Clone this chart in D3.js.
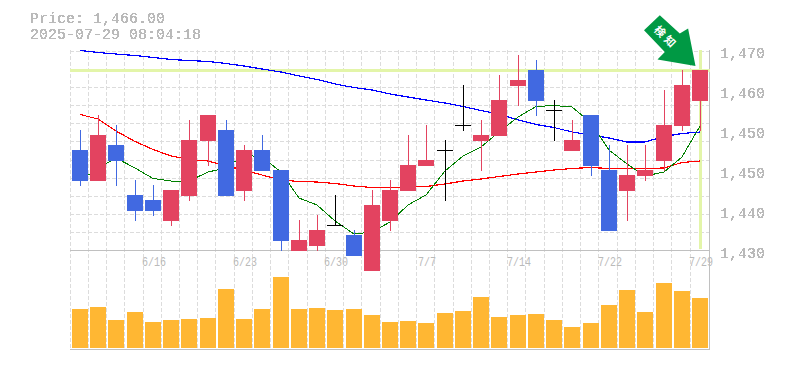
<!DOCTYPE html>
<html><head><meta charset="utf-8">
<script src="https://cdn.jsdelivr.net/npm/d3@7"></script>
<style>html,body{margin:0;padding:0;background:#fff}svg{display:block}text{font-family:"Liberation Mono",monospace}</style>
</head><body><svg id="c" width="785" height="370"></svg>
<script>
const priceTickLabels = ["1,470","1,460","1,450","1,450","1,440","1,430"];
const dateLabels = ["6/16","6/23","6/30","7/7","7/14","7/22","7/29"];
const dateLabelIndex = [4,9,14,19,24,29,34];
const open  = [1450,1444,1451,1441,1440,1436,1441,1452,1454,1442,1450,1446,1430,1431,1435,1433,1426,1436,1442,1447,1450,1455,1452,1453,1463,1466,1458,1450,1457,1446,1442,1445,1448,1455,1460];
const close = [1444,1453,1448,1438,1438,1442,1452,1457,1441,1450,1446,1432,1432,1434,1435,1429,1439,1442,1447,1448,1450,1455,1453,1460,1464,1460,1458,1452,1447,1434,1445,1446,1455,1463,1466];
const high  = [1454,1457,1455,1444,1443,1442,1456,1457,1456,1451,1453,1446,1436,1437,1441,1434,1442,1444,1453,1455,1452,1463,1456,1465,1469,1468,1460,1456,1457,1451,1451,1451,1462,1466,1466];
const low   = [1443,1444,1443,1436,1437,1435,1440,1447,1441,1440,1446,1430,1430,1430,1435,1429,1426,1434,1442,1447,1440,1454,1446,1453,1459,1457,1452,1450,1445,1434,1436,1444,1446,1454,1454];
const volume = [39,41,28,36,26,28,29,30,59,29,39,71,39,40,38,39,33,26,27,25,35,37,51,31,33,34,28,21,25,43,58,36,65,57,50];
const maLong = [1470.0,1469.6,1469.3,1469.0,1468.6,1468.2,1468.0,1467.8,1467.4,1466.9,1466.3,1465.7,1464.9,1464.2,1463.3,1462.6,1462.1,1461.3,1460.7,1460.1,1459.5,1458.8,1458.0,1457.3,1456.1,1455.2,1454.6,1453.7,1453.1,1452.5,1451.7,1451.7,1452.8,1453.4,1453.7];
const maMid = [1457.2,1456.3,1453.9,1451.8,1450.2,1448.9,1448.2,1447.9,1446.9,1446.1,1445.1,1444.1,1443.8,1443.7,1443.4,1442.9,1442.6,1442.6,1442.7,1442.8,1443.3,1443.9,1444.3,1444.8,1445.3,1445.7,1446.1,1446.4,1446.6,1446.4,1446.4,1446.4,1446.5,1447.6,1447.9];
const maShort = [1443.9,1446.5,1448.5,1446.5,1444.4,1443.9,1443.9,1445.7,1446.5,1449.1,1448.7,1445.7,1440.5,1439.1,1435.9,1433.3,1433.7,1435.7,1439.1,1441.1,1445.9,1448.9,1450.7,1453.7,1456.7,1458.8,1459.0,1458.7,1455.5,1450.1,1447.3,1444.9,1445.7,1448.7,1454.9];
const lastPrice = 1466;
const titleLines = ["Price: 1,466.00","2025-07-29 08:04:18"];
const badge = "検知";

const svg = d3.select("#c");
const n = open.length;
const xp = d3.scalePoint().domain(d3.range(n)).range([80,700]);
const X = i => Math.round(xp(i));
const y = d3.scaleLinear().domain([1430,1470]).range([250.5,50.5]);
const v = d3.scaleLinear().domain([0,100]).range([348,248]);
const GRID="#dcdcdc", AXIS="#c0c0c0", TXT="#bababa";

const defs = svg.append("defs");
const f = defs.append("filter").attr("id","alias").attr("x","-5%").attr("y","-20%").attr("width","110%").attr("height","140%");
f.append("feComponentTransfer").append("feFuncA").attr("type","discrete").attr("tableValues","0 1 1");

// grid
const g = svg.append("g").attr("stroke",GRID).attr("stroke-dasharray","4,2").attr("fill","none");
d3.range(0,11).forEach(k=>{
  const yy=Math.round(50.5+k*200/11)+.5;
  g.append("line").attr("x1",70).attr("x2",710).attr("y1",yy).attr("y2",yy);
});
d3.range(0,35).forEach(i=>{
  const xx=Math.floor(70.1+i*620/34)+.5;
  g.append("line").attr("x1",xx).attr("x2",xx).attr("y1",50).attr("y2",350);
});
// axes
const a = svg.append("g").attr("stroke",AXIS).attr("fill","none");
a.append("line").attr("x1",70).attr("x2",710).attr("y1",250.5).attr("y2",250.5);
a.append("line").attr("x1",70).attr("x2",710).attr("y1",349.5).attr("y2",349.5);
a.append("line").attr("x1",709.5).attr("x2",709.5).attr("y1",50).attr("y2",350);

// highlight
svg.append("line").attr("x1",70).attr("x2",710).attr("y1",y(lastPrice)).attr("y2",y(lastPrice)).attr("stroke","#e3f5a9").attr("stroke-width",3);
svg.append("line").attr("x1",X(34)+.5).attr("x2",X(34)+.5).attr("y1",50).attr("y2",249).attr("stroke","#e3f5a9").attr("stroke-width",3);

// ma lines
const ln = d3.line().x((d,i)=>X(i)).y(d=>y(d));
[[maLong,"#0000ff",1.2],[maMid,"#ff0000",1.2],[maShort,"#008000",1]].forEach(([d,c,w])=>{
  svg.append("path").attr("d",ln(d)).attr("fill","none").attr("stroke",c).attr("stroke-width",w).attr("shape-rendering","crispEdges");
});

// candles
const RED="#e34360", BLUE="#4169e1";
const col=i=>close[i]>open[i]?RED:close[i]<open[i]?BLUE:"#000";
const cg=svg.append("g");
d3.range(n).forEach(i=>{
  const c=X(i);
  cg.append("line").attr("x1",c+.5).attr("x2",c+.5).attr("y1",y(high[i])-.5).attr("y2",y(low[i])+.5).attr("stroke",col(i)).attr("stroke-width",1);
  if(close[i]===open[i]){
    cg.append("line").attr("x1",c-8).attr("x2",c+8).attr("y1",y(open[i])).attr("y2",y(open[i])).attr("stroke","#000").attr("stroke-width",1);
  } else {
    const t=y(Math.max(open[i],close[i])), b=y(Math.min(open[i],close[i]));
    cg.append("rect").attr("x",c-8).attr("width",16).attr("y",t-.5).attr("height",b-t+1).attr("fill",col(i));
  }
});
// volume
svg.append("g").selectAll("rect").data(volume).join("rect")
  .attr("x",(d,i)=>X(i)-8).attr("width",16)
  .attr("y",d=>v(d)).attr("height",d=>v(0)-v(d)).attr("fill","#ffb733");

// labels
const tg=svg.append("g").attr("filter","url(#alias)").attr("fill",TXT);
priceTickLabels.forEach((t,k)=>{
  tg.append("text").attr("x",720).attr("y",58+k*40).attr("font-size",15).text(t);
});
dateLabels.forEach((t,k)=>{
  svg.append("text").attr("fill",TXT).attr("x",X(dateLabelIndex[k])+1).attr("y",266).attr("text-anchor","middle").attr("font-size",12)
    .attr("textLength",t.length*6).attr("lengthAdjust","spacingAndGlyphs").text(t);
});
titleLines.forEach((t,k)=>{
  tg.append("text").attr("x",30).attr("y",23+k*16).attr("font-size",15).text(t);
});

// arrow, anchored at last candle's close
const tipX=X(34)-4.5, tipY=y(lastPrice)-4.5;
const arrow=[[0,0],[-38,-6.5],[-30.7,-14],[-51.5,-35.7],[-35.7,-50.7],[-15.7,-32.4],[-7.4,-37.4]];
svg.append("polygon").attr("points",arrow.map(p=>[tipX+p[0],tipY+p[1]].join(",")).join(" ")).attr("fill","#009944");
svg.append("text").attr("transform",`translate(${tipX-29.5},${tipY-28.5}) rotate(45) translate(0,4)`).attr("text-anchor","middle")
  .attr("font-size",11).attr("font-weight","bold").attr("fill","#fff").attr("letter-spacing",3).style("font-family","'Noto Sans CJK JP'").text(badge);
</script></body></html>
